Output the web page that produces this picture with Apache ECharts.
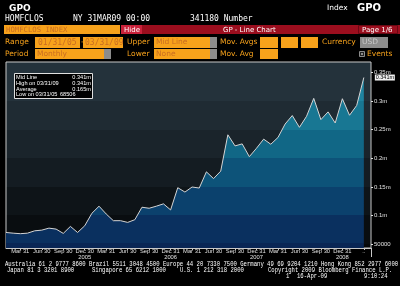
<!DOCTYPE html>
<html><head><meta charset="utf-8">
<script src="https://cdn.jsdelivr.net/npm/echarts@6/dist/echarts.min.js"></script>
<style>html,body{margin:0;padding:0;background:#000;}#c{width:400px;height:286px;}</style>
</head><body><div id="c"></div>
<script>
// ---- data ----
const months = ['Jan 05','Feb 05','Mar 05','Apr 05','May 05','Jun 05','Jul 05','Aug 05','Sep 05','Oct 05','Nov 05','Dec 05',
  'Jan 06','Feb 06','Mar 06','Apr 06','May 06','Jun 06','Jul 06','Aug 06','Sep 06','Oct 06','Nov 06','Dec 06',
  'Jan 07','Feb 07','Mar 07','Apr 07','May 07','Jun 07','Jul 07','Aug 07','Sep 07','Oct 07','Nov 07','Dec 07',
  'Jan 08','Feb 08','Mar 08','Apr 08','May 08','Jun 08','Jul 08','Aug 08','Sep 08','Oct 08','Nov 08','Dec 08',
  'Jan 09','Feb 09','Mar 09','Apr 09'];
const values = [70600,69400,68506,69400,73500,74700,78200,76500,69000,81200,70600,82300,
  104100,116500,102900,91200,91200,88200,92900,114700,112900,116500,120600,110000,
  148800,141200,150000,148200,176500,164700,177700,241200,221800,225300,203000,217700,
  233600,224700,236500,260000,274800,254200,273600,304800,267700,281200,261800,304200,
  275300,292400,341180];
const quarterLabels = ['Mar 31','Jun 30','Sep 30','Dec 30','Mar 31','Jun 30','Sep 30','Dec 31',
  'Mar 31','Jun 30','Sep 30','Dec 31','Mar 31','Jun 30','Sep 30','Dec 31','..'];
const yearLabels = ['2005','2006','2007','2008'];
const yTickValues = [50000,100000,150000,200000,250000,300000,350000];
const yTickLabels = ['50000','0.1m','0.15m','0.2m','0.25m','0.3m','0.35m'];
const statNames = ['Mid Line','High on 03/31/09','Average','Low on 03/31/05'];
const statValues = ['0.341m','0.341m','0.165m','68506'];
const lastLabel = '0.341m';

// ---- styles ----
const OR = '#f7a21b', ORT = '#c96d22', GR = '#8c8c8c';
const F = (s, fam, b) => (b ? 'bold ' : '') + s + 'px ' + (fam || '"DejaVu Sans"');
function R(x, y, w, h, fill, stroke) {
  return {type: 'rect', z: 100, shape: {x, y, width: w, height: h},
    style: {fill, stroke: stroke || null, lineWidth: stroke ? 1 : 0}};
}
function T(x, y, text, fill, font, align, sx) {
  return {type: 'text', z: 101, x, y, scaleX: sx || 1,
    style: {text, fill, font, textAlign: align || 'left', textVerticalAlign: 'middle'}};
}
function L(x1, y1, x2, y2, c) {
  return {type: 'line', z: 100, shape: {x1, y1, x2, y2}, style: {stroke: c, lineWidth: 1}};
}
const mono = '"DejaVu Sans Mono"';
const g = [];
// header
g.push(T(9, 8.5, 'GPO', '#fff', F(9, null, true)));
g.push(T(327, 8.5, 'Index', '#fff', F(7.5)));
g.push(T(357, 8.5, 'GPO', '#fff', F(10, null, true)));
g.push(T(5, 18.5, 'HOMFCLOS', '#fff', F(8, mono)));
g.push(T(73, 18.5, 'NY 31MAR09 00:00', '#fff', F(8, mono)));
g.push(T(190, 18.5, '341180 Number', '#fff', F(8, mono)));
g.push(R(4, 25, 116, 9, OR));
g.push(T(6, 29.7, 'HOMFCLOS INDEX', ORT, F(7.3, mono)));
g.push(R(121, 25, 21, 9, '#c9213a'));
g.push(T(124, 29.7, 'Hide', '#fff', F(7)));
g.push(R(142, 25, 258, 9, '#9b0e1e'));
g.push(T(223, 29.7, 'GP - Line Chart', '#fff', F(7)));
g.push(R(358.5, 25.5, 39, 8, '#9b0e1e', '#6a0712'));
g.push(T(362, 29.7, 'Page 1/6', '#fff', F(7)));
// row 4
const r4 = 42.5, r5 = 54;
g.push(T(5, r4, 'Range', OR, F(7.5)));
g.push(R(35, 37, 45, 11, OR)); g.push(T(38, r4, '01/31/05', ORT, F(8, mono)));
g.push(T(81, r4, '-', OR, F(7.5)));
g.push(R(83, 37, 40, 11, OR)); g.push(T(85, r4, '03/31/09', ORT, F(8, mono)));
g.push(T(127, r4, 'Upper', OR, F(7.5)));
g.push(R(154, 37, 56, 11, OR)); g.push(R(210, 37, 7, 11, GR)); g.push(T(156, r4, 'Mid Line', ORT, F(7.5)));
g.push(T(220, r4, 'Mov. Avgs', OR, F(7.5)));
g.push(R(260, 37, 18, 11, OR)); g.push(R(281, 37, 17, 11, OR)); g.push(R(301, 37, 17, 11, OR));
g.push(T(322, r4, 'Currency', OR, F(7.5)));
g.push(R(360, 37, 28, 11, GR)); g.push(T(362, r4, 'USD', '#c8c8c8', F(7.5)));
// row 5
g.push(T(5, r5, 'Period', OR, F(7.5)));
g.push(R(35, 49, 69, 10, OR)); g.push(R(104, 49, 7, 10, GR)); g.push(T(37, r5, 'Monthly', ORT, F(7.5)));
g.push(T(127, r5, 'Lower', OR, F(7.5)));
g.push(R(154, 49, 56, 10, OR)); g.push(R(210, 49, 7, 10, GR)); g.push(T(156, r5, 'None', ORT, F(7.5)));
g.push(T(220, r5, 'Mov. Avg', OR, F(7.5)));
g.push(R(260, 49, 18, 10, OR));
g.push(R(359.5, 51.5, 5, 5, '#222', GR)); g.push(R(361, 53, 2, 2, GR));
g.push(T(367, r5, 'Events', OR, F(7.5)));
// frame extension
g.push(L(371.5, 248, 371.5, 257, '#c8c8c8'));
// stats box
g.push(R(14.5, 73.5, 78, 25, '#000', '#e0e0e0'));
const sy = [77, 83, 89, 94.5];
for (let i = 0; i < 4; i++) {
  g.push(T(16, sy[i], statNames[i], '#fff', F(5.6, '"Liberation Sans"')));
  if (i < 3) g.push(T(91, sy[i], statValues[i], '#fff', F(5.6, '"Liberation Sans"'), 'right'));
  else g.push(T(60, sy[i], statValues[i], '#fff', F(5.6, '"Liberation Sans"')));
}
// footer
const ff = F(7, '"Liberation Mono"');
g.push(T(5, 264, 'Australia 61 2 9777 8600 Brazil 5511 3048 4500 Europe 44 20 7330 7500 Germany 49 69 9204 1210 Hong Kong 852 2977 6000', '#fff', ff, 'left', 0.8));
g.push(T(7, 270.5, 'Japan 81 3 3201 8900', '#fff', ff, 'left', 0.8));
g.push(T(92, 270.5, 'Singapore 65 6212 1000', '#fff', ff, 'left', 0.8));
g.push(T(180, 270.5, 'U.S. 1 212 318 2000', '#fff', ff, 'left', 0.8));
g.push(T(268, 270.5, 'Copyright 2009 Bloomberg Finance L.P.', '#fff', ff, 'left', 0.8));
g.push(T(286, 276.5, '1', '#fff', ff, 'left', 0.8));
g.push(T(297, 276.5, '16-Apr-09', '#fff', ff, 'left', 0.8));
g.push(T(364, 276.5, '9:10:24', '#fff', ff, 'left', 0.8));

// stepped band gradients (band edges at tick levels)
const edges = [0, 0.212, 0.366, 0.518, 0.670, 0.823, 0.975, 1];
function bands(cols) {
  const st = [];
  for (let i = 0; i < cols.length; i++) {
    st.push({offset: edges[i], color: cols[i]});
    st.push({offset: edges[i + 1], color: cols[i]});
  }
  return st;
}
const bgCols = ['#24323b', '#1f2b33', '#1a242b', '#141c22', '#0e1418', '#090d10', '#05080a'];
const areaCols = ['#1f84a0', '#187793', '#116786', '#0d5379', '#0b416d', '#0a305f', '#092655'];

const isQ = (i) => i % 3 === 2;
const chart = echarts.init(document.getElementById('c'), null, {renderer: 'canvas'});
chart.setOption({
  backgroundColor: '#000',
  animation: false,
  grid: {left: 6, right: 29, top: 62, bottom: 38, show: true, borderColor: '#c8c8c8', borderWidth: 1,
    backgroundColor: {type: 'linear', x: 0, y: 0, x2: 0, y2: 1, colorStops: bands(bgCols)}},
  xAxis: {
    type: 'category', data: months, boundaryGap: false,
    axisLine: {show: true, lineStyle: {color: '#c8c8c8', width: 1}},
    axisTick: {show: true, interval: isQ, length: 2, lineStyle: {color: '#c8c8c8'}},
    axisLabel: {
      interval: isQ, margin: 0, color: '#e0e0e0', fontSize: 5.8, fontFamily: '"Liberation Sans"', lineHeight: 6.5,
      formatter: (v, idx) => {
        const q = (idx - 2) / 3;
        let s = quarterLabels[q] || '';
        if (q % 4 === 3 && yearLabels[(q - 3) / 4]) s += '\n' + yearLabels[(q - 3) / 4];
        return s;
      }
    },
    splitLine: {show: false}
  },
  yAxis: {
    type: 'value', position: 'right', min: 43500, max: 368300,
    axisLine: {show: false},
    axisTick: {show: true, length: 2, customValues: yTickValues, lineStyle: {color: '#e0e0e0'}},
    axisLabel: {customValues: yTickValues, margin: 3, color: '#e0e0e0', fontSize: 6, fontFamily: '"Liberation Sans"',
      formatter: (v) => yTickLabels[yTickValues.indexOf(v)]},
    splitLine: {show: false}
  },
  series: [{
    type: 'line', data: values, showSymbol: false, symbol: 'none',
    lineStyle: {color: '#d4d4d4', width: 1},
    areaStyle: {opacity: 1, color: {type: 'linear', x: 0, y: 62, x2: 0, y2: 248, global: true, colorStops: bands(areaCols)}},
    markPoint: {
      symbol: 'rect', symbolSize: [20, 6], symbolOffset: [21, 0],
      itemStyle: {color: '#f0f0f0'},
      label: {show: true, position: 'inside', color: '#000', fontSize: 5.5, fontFamily: '"Liberation Sans"', formatter: lastLabel},
      data: [{coord: [values.length - 1, values[values.length - 1]]}]
    }
  }],
  graphic: {elements: g}
});
</script></body></html>
